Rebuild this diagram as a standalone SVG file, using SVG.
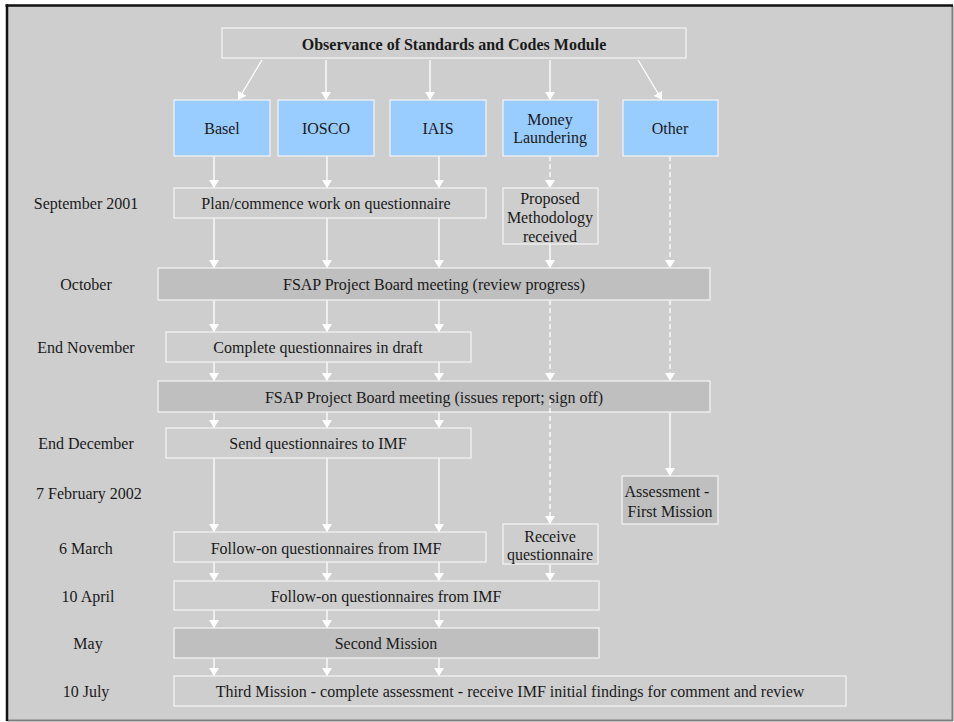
<svg xmlns="http://www.w3.org/2000/svg" width="954" height="722" viewBox="0 0 954 722">
<defs>
<marker id="ah" viewBox="0 0 8 10" refX="8" refY="5" markerWidth="8" markerHeight="10" markerUnits="userSpaceOnUse" orient="auto">
<path d="M0,0 L8,5 L0,10 z" fill="#ffffff"/>
</marker>
<style>
.box{fill:#cecece;stroke:#f2f2f2;stroke-width:1.3}
.blue{fill:#99ccff;stroke:#f2f2f2;stroke-width:1.3}
.dark{fill:#bfbfbf;stroke:#f2f2f2;stroke-width:1.3}
.t{font-family:"Liberation Serif","Times New Roman",serif;font-size:16px;fill:#1a1a1a;text-anchor:middle;dominant-baseline:central}
.b{font-weight:bold}
.c{stroke:#ffffff;stroke-width:1.3;fill:none;marker-end:url(#ah)}
.d{stroke-dasharray:5 3}
.n{stroke:#ffffff;stroke-width:1.3;fill:none}
</style>
</defs>
<rect x="0" y="0" width="954" height="722" fill="#ffffff"/>
<rect x="7" y="6" width="946" height="715" fill="#cecece"/>
<line x1="952.5" y1="6" x2="952.5" y2="721" stroke="#808080" stroke-width="2"/>
<line x1="7" y1="720.5" x2="953" y2="720.5" stroke="#808080" stroke-width="2"/>
<line x1="5.5" y1="5.5" x2="953" y2="5.5" stroke="#111111" stroke-width="2.5"/>
<line x1="7" y1="4.5" x2="7" y2="721" stroke="#111111" stroke-width="2.5"/>

<g id="labels">
<text class="t" x="86" y="203">September 2001</text>
<text class="t" x="86" y="284">October</text>
<text class="t" x="86" y="347">End November</text>
<text class="t" x="86" y="443">End December</text>
<text class="t" x="89" y="493">7 February 2002</text>
<text class="t" x="86" y="548">6 March</text>
<text class="t" x="88" y="596">10 April</text>
<text class="t" x="88" y="643">May</text>
<text class="t" x="86" y="691">10 July</text>
</g>

<g id="connectors">
<line class="c" x1="262" y1="60" x2="238" y2="100"/>
<line class="c" x1="326" y1="60" x2="326" y2="100"/>
<line class="c" x1="430" y1="60" x2="430" y2="100"/>
<line class="c" x1="550" y1="60" x2="550" y2="100"/>
<line class="c" x1="638" y1="60" x2="662" y2="100"/>

<line class="c" x1="214" y1="156" x2="214" y2="188"/>
<line class="c" x1="327" y1="156" x2="327" y2="188"/>
<line class="c" x1="439" y1="156" x2="439" y2="188"/>
<line class="c d" x1="550" y1="156" x2="550" y2="188"/>
<line class="c d" x1="670" y1="156" x2="670" y2="268"/>

<line class="c" x1="214" y1="218" x2="214" y2="268"/>
<line class="c" x1="327" y1="218" x2="327" y2="268"/>
<line class="c" x1="439" y1="218" x2="439" y2="268"/>
<line class="c" x1="550" y1="244" x2="550" y2="268"/>

<line class="c" x1="214" y1="300" x2="214" y2="332"/>
<line class="c" x1="327" y1="300" x2="327" y2="332"/>
<line class="c" x1="439" y1="300" x2="439" y2="332"/>
<line class="c d" x1="550" y1="300" x2="550" y2="381"/>
<line class="c d" x1="670" y1="300" x2="670" y2="381"/>

<line class="c" x1="214" y1="362" x2="214" y2="381"/>
<line class="c" x1="327" y1="362" x2="327" y2="381"/>
<line class="c" x1="439" y1="362" x2="439" y2="381"/>

<line class="c" x1="214" y1="412" x2="214" y2="428"/>
<line class="c" x1="327" y1="412" x2="327" y2="428"/>
<line class="c" x1="439" y1="412" x2="439" y2="428"/>
<line class="c" x1="670" y1="412" x2="670" y2="476"/>

<line class="c" x1="214" y1="458" x2="214" y2="532"/>
<line class="c" x1="327" y1="458" x2="327" y2="532"/>
<line class="c" x1="439" y1="458" x2="439" y2="532"/>

<line class="c" x1="214" y1="562" x2="214" y2="581"/>
<line class="c" x1="327" y1="562" x2="327" y2="581"/>
<line class="c" x1="439" y1="562" x2="439" y2="581"/>
<line class="c" x1="550" y1="564" x2="550" y2="581"/>

<line class="c" x1="214" y1="610" x2="214" y2="628"/>
<line class="c" x1="327" y1="610" x2="327" y2="628"/>
<line class="c" x1="439" y1="610" x2="439" y2="628"/>

<line class="c" x1="214" y1="658" x2="214" y2="676"/>
<line class="c" x1="327" y1="658" x2="327" y2="676"/>
<line class="c" x1="439" y1="658" x2="439" y2="676"/>
</g>

<g id="title"><rect class="box" x="222" y="28" width="464" height="30"/><text class="t b" x="454" y="44">Observance of Standards and Codes Module</text></g>
<g id="basel"><rect class="blue" x="174" y="100" width="96" height="56"/><text class="t" x="222" y="128">Basel</text></g>
<g id="iosco"><rect class="blue" x="278" y="100" width="96" height="56"/><text class="t" x="326" y="128">IOSCO</text></g>
<g id="iais"><rect class="blue" x="390" y="100" width="96" height="56"/><text class="t" x="438" y="128">IAIS</text></g>
<g id="money"><rect class="blue" x="503" y="100" width="95" height="56"/><text class="t" x="550" y="119">Money</text><text class="t" x="550" y="137">Laundering</text></g>
<g id="other"><rect class="blue" x="623" y="100" width="95" height="56"/><text class="t" x="670" y="128">Other</text></g>

<g id="plan"><rect class="box" x="174" y="188" width="312" height="30"/><text class="t" x="326" y="203">Plan/commence work on questionnaire</text></g>
<g id="proposed"><rect class="box" x="503" y="188" width="95" height="56"/><text class="t" x="550" y="198">Proposed</text><text class="t" x="550" y="217">Methodology</text><text class="t" x="550" y="236">received</text></g>
<g id="fsap1"><rect class="dark" x="158" y="268" width="552" height="32"/><text class="t" x="434" y="284">FSAP Project Board meeting (review progress)</text></g>
<g id="complete"><rect class="box" x="166" y="332" width="305" height="30"/><text class="t" x="318" y="347">Complete questionnaires in draft</text></g>
<g id="fsap2"><rect class="dark" x="158" y="381" width="552" height="31"/><text class="t" x="434" y="397">FSAP Project Board meeting (issues report; sign off)</text></g>
<line class="c d" x1="550" y1="400" x2="550" y2="524"/>
<g id="send"><rect class="box" x="166" y="428" width="305" height="30"/><text class="t" x="318" y="443">Send questionnaires to IMF</text></g>
<g id="assessment"><rect class="dark" x="622" y="476" width="96" height="48"/><text class="t" x="667" y="491">Assessment -</text><text class="t" x="670" y="511">First Mission</text></g>
<g id="followon1"><rect class="box" x="174" y="532" width="312" height="30"/><text class="t" x="326" y="548">Follow-on questionnaires from IMF</text></g>
<g id="receive"><rect class="box" x="503" y="524" width="95" height="40"/><text class="t" x="550" y="536">Receive</text><text class="t" x="550" y="554">questionnaire</text></g>
<g id="followon2"><rect class="box" x="174" y="581" width="425" height="29"/><text class="t" x="386" y="596">Follow-on questionnaires from IMF</text></g>
<g id="second"><rect class="dark" x="174" y="628" width="425" height="30"/><text class="t" x="386" y="643">Second Mission</text></g>
<g id="third"><rect class="box" x="174" y="676" width="672" height="30"/><text class="t" x="510" y="691">Third Mission - complete assessment - receive IMF initial findings for comment and review</text></g>
</svg>
